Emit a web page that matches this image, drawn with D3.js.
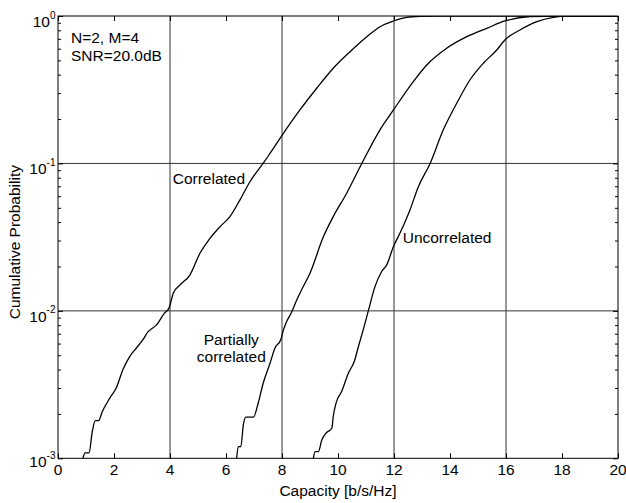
<!DOCTYPE html>
<html>
<head>
<meta charset="utf-8">
<script src="https://cdn.jsdelivr.net/npm/d3@7"></script>
<style>
  body { margin: 0; background: #fff; }
  svg text { font-family: Arial, "Liberation Sans", sans-serif; fill: #000; }
</style>
</head>
<body>
<div id="chart"></div>
<script>
// values
const capCorr = [0.89, 0.97, 1.11, 1.22, 1.33, 1.45, 1.58, 1.85, 2.08, 2.32, 2.56, 2.80, 3.04, 3.21, 3.51, 3.81, 3.96,
    4.12, 4.36, 4.71, 5.07, 5.43, 5.79, 6.14, 6.50, 6.86, 7.33, 7.57, 7.99, 8.64, 9.24, 9.83, 10.43, 11.03, 11.50,
    11.98, 12.45, 12.93, 13.64, 20];
const probCorr = [0.001, 0.00109, 0.00109, 0.0015, 0.0018, 0.0018, 0.00207, 0.00256, 0.003, 0.004, 0.0049, 0.0056, 0.0064,
    0.0072, 0.008, 0.0097, 0.0104, 0.0132, 0.015, 0.0175, 0.0246, 0.0311, 0.0373, 0.0436, 0.0566, 0.0754, 0.1003, 0.117,
    0.154, 0.2305, 0.3235, 0.442, 0.573, 0.724, 0.846, 0.925, 0.98, 0.995, 1, 1];

const capPart = [6.38, 6.44, 6.53, 6.62, 6.71, 6.98, 7.15, 7.33, 7.57, 7.75, 7.96, 8.05, 8.17, 8.32, 8.53, 8.70, 9.00,
    9.48, 9.83, 10.31, 10.85, 11.50, 11.98, 12.69, 13.17, 13.88, 14.60, 15.31, 15.96, 16.86, 17.93, 20];
const probPart = [0.001, 0.0012, 0.0012, 0.00169, 0.0019, 0.0019, 0.00237, 0.00324, 0.0044, 0.0056, 0.0064, 0.0074,
    0.0085, 0.0096, 0.0119, 0.0139, 0.018, 0.0319, 0.0436, 0.0628, 0.1, 0.169, 0.2305, 0.359, 0.465, 0.604, 0.724,
    0.825, 0.925, 0.989, 1, 1];

const capUnc = [9.12, 9.18, 9.30, 9.42, 9.57, 9.78, 9.83, 9.93, 10.13, 10.37, 10.58, 10.73, 10.90, 11.08, 11.32, 11.56,
    11.74, 11.98, 12.21, 12.57, 12.87, 13.29, 13.76, 14.24, 14.71, 15.19, 15.67, 15.96, 16.50, 17.10, 17.69, 18.17, 20];
const probUnc = [0.001, 0.00111, 0.00111, 0.00133, 0.00148, 0.0016, 0.00192, 0.00237, 0.00284, 0.00378, 0.00453, 0.00573,
    0.00743, 0.00995, 0.0146, 0.0185, 0.0205, 0.0273, 0.0336, 0.0484, 0.0696, 0.1, 0.169, 0.256, 0.368, 0.478, 0.588,
    0.688, 0.804, 0.915, 0.98, 1, 1];

const xTicks = [0, 2, 4, 6, 8, 10, 12, 14, 16, 18, 20];
const yTicks = [1e-3, 1e-2, 1e-1, 1];
const yExp = ["-3", "-2", "-1", "0"];
const xGrid = [4, 8, 12, 16];
const yGrid = [1e-2, 1e-1];

const width = 626, height = 503;
const pLeft = 58, pRight = 618, pTop = 16, pBottom = 458.3;

const svg = d3.select("#chart").append("svg")
    .attr("width", width)
    .attr("height", height);

const x = d3.scaleLinear().domain([0, 20]).range([pLeft, pRight]);
const y = d3.scaleLog().domain([1e-3, 1]).range([pBottom, pTop]);

// grid
svg.append("g").selectAll("line").data(xGrid).join("line")
    .attr("x1", d => x(d)).attr("x2", d => x(d))
    .attr("y1", pTop).attr("y2", pBottom)
    .attr("stroke", "#333").attr("stroke-width", 1);
svg.append("g").selectAll("line").data(yGrid).join("line")
    .attr("x1", pLeft).attr("x2", pRight)
    .attr("y1", d => y(d)).attr("y2", d => y(d))
    .attr("stroke", "#333").attr("stroke-width", 1);

// minor y ticks
const minor = [];
yTicks.slice(0, 3).forEach(d => { for (let k = 2; k <= 9; k++) minor.push(d * k); });

svg.append("g").attr("transform", `translate(0,${pBottom})`)
    .call(d3.axisBottom(x).tickValues(xTicks).tickSizeInner(-5).tickSizeOuter(0).tickFormat(""));
svg.append("g").attr("transform", `translate(0,${pTop})`)
    .call(d3.axisTop(x).tickValues(xTicks).tickSizeInner(-5).tickSizeOuter(0).tickFormat(""));
svg.append("g").attr("transform", `translate(${pLeft},0)`)
    .call(d3.axisLeft(y).tickValues(yTicks).tickSizeInner(-5).tickSizeOuter(0).tickFormat(""));
svg.append("g").attr("transform", `translate(${pRight},0)`)
    .call(d3.axisRight(y).tickValues(yTicks).tickSizeInner(-5).tickSizeOuter(0).tickFormat(""));
svg.append("g").attr("transform", `translate(${pLeft},0)`)
    .call(d3.axisLeft(y).tickValues(minor).tickSizeInner(-3).tickSizeOuter(0).tickFormat(""));
svg.append("g").attr("transform", `translate(${pRight},0)`)
    .call(d3.axisRight(y).tickValues(minor).tickSizeInner(-3).tickSizeOuter(0).tickFormat(""));
svg.selectAll(".domain").remove();
svg.selectAll(".tick line").attr("stroke", "#000");

// box
svg.append("rect")
    .attr("x", pLeft).attr("y", pTop)
    .attr("width", pRight - pLeft).attr("height", pBottom - pTop)
    .attr("fill", "none").attr("stroke", "#000").attr("stroke-width", 1);

// x tick labels
svg.append("g").selectAll("text").data(xTicks).join("text")
    .attr("x", d => x(d)).attr("y", 474.5)
    .attr("text-anchor", "middle")
    .style("font-size", "15.5px")
    .text(d => d);

// y tick labels 10^n
const yl = svg.append("g").selectAll("text").data(yTicks).join("text")
    .attr("x", 55.5)
    .attr("y", (d, i) => y(d) + (i === 0 ? 9 : 11))
    .attr("text-anchor", "end")
    .style("font-size", "15.5px");
yl.append("tspan").text("10");
yl.append("tspan").attr("dy", -8.5).style("font-size", "10px").text((d, i) => yExp[i]);

// axis titles
svg.append("text")
    .attr("x", (pLeft + pRight) / 2).attr("y", 495.5)
    .attr("text-anchor", "middle")
    .style("font-size", "15.5px")
    .text("Capacity [b/s/Hz]");
svg.append("text")
    .attr("transform", `translate(20,${(pTop + pBottom) / 2 + 5}) rotate(-90)`)
    .attr("text-anchor", "middle")
    .style("font-size", "15.5px")
    .text("Cumulative Probability");

// curves
svg.append("clipPath").attr("id", "clip").append("rect")
    .attr("x", pLeft).attr("y", pTop).attr("width", pRight - pLeft).attr("height", pBottom - pTop);

const line = d3.line().curve(d3.curveMonotoneX).x(d => x(d[0])).y(d => y(d[1]));
const series = [
    d3.zip(capCorr, probCorr),
    d3.zip(capPart, probPart),
    d3.zip(capUnc, probUnc)
];
svg.append("g").attr("clip-path", "url(#clip)")
    .selectAll("path").data(series).join("path")
    .attr("d", line)
    .attr("fill", "none")
    .attr("stroke", "#000")
    .attr("stroke-width", 1.3)
    .attr("stroke-linejoin", "round");

// annotations
const ann = svg.append("g").style("font-size", "15.5px");
ann.append("text").attr("x", 71).attr("y", 42.7).text("N=2, M=4");
ann.append("text").attr("x", 71).attr("y", 61).text("SNR=20.0dB");
ann.append("text").attr("x", 172.7).attr("y", 184.3).text("Correlated");
ann.append("text").attr("x", 402.7).attr("y", 243.3).text("Uncorrelated");
ann.append("text").attr("x", 231.3).attr("y", 345).attr("text-anchor", "middle").text("Partially");
ann.append("text").attr("x", 231.3).attr("y", 362.3).attr("text-anchor", "middle").text("correlated");
</script>
</body>
</html>
